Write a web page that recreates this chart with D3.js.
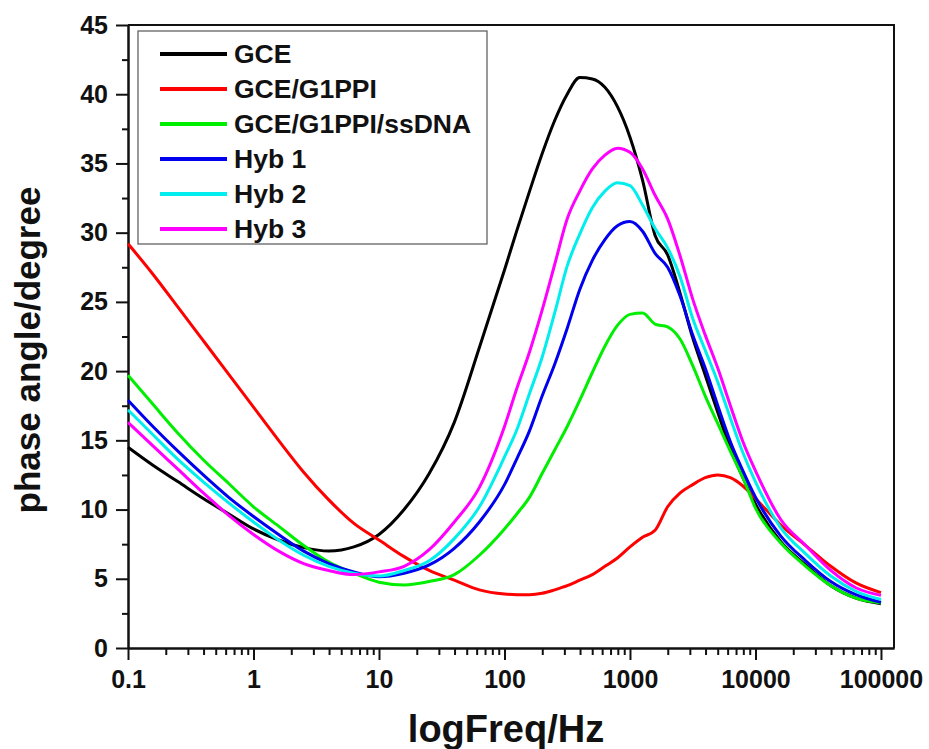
<!DOCTYPE html>
<html lang="en">
<head>
    <meta charset="UTF-8">
    <script src="https://d3js.org/d3.v7.min.js"></script>
    <title>Phase angle vs frequency</title>
    <style>
        body {
            margin: 0;
            background: #fff;
        }
        text {
            font-family: "Liberation Sans", Arial, sans-serif;
            font-weight: bold;
            fill: #111;
        }
        .axis path, .axis line {
            stroke: #111;
            stroke-width: 2px;
        }
    </style>
</head>
<body>
    <svg id="chart" width="929" height="749"></svg>

    <script>
        // frequencies (Hz)
        const freq = [0.1, 0.158, 0.251, 0.398, 0.631, 1, 1.585, 2.512, 3.981, 6.31,
            10, 15.85, 25.12, 39.81, 63.1, 100, 125.9, 158.5, 199.5, 251.2,
            316.2, 398.1, 501.2, 631, 794.3, 1000, 1259, 1585, 1995, 2512,
            3162, 3981, 5012, 6310, 7943, 10000, 15850, 25120, 39810, 63100, 100000];

        // phase angle (degree)
        const gce = [14.5, 13.2, 12.0, 10.8, 9.7, 8.6, 7.8, 7.25, 7.0, 7.3,
            8.2, 10.0, 12.6, 16.3, 21.7, 27.3, 30.2, 33.0, 35.7, 38.1,
            40.0, 41.2, 41.1, 40.5, 39.1, 36.9, 33.8, 29.8, 28.4, 25.6,
            22.4, 19.7, 17.0, 14.4, 12.3, 10.4, 7.7, 6.0, 4.5, 3.6, 3.2];
        const g1ppi = [29.2, 27.0, 24.6, 22.2, 19.8, 17.4, 15.0, 12.7, 10.7, 9.0,
            7.8, 6.6, 5.6, 4.9, 4.2, 3.9, 3.85, 3.85, 3.95, 4.2,
            4.5, 4.9, 5.3, 5.9, 6.5, 7.3, 8.0, 8.5, 10.2, 11.2,
            11.8, 12.3, 12.5, 12.3, 11.7, 10.8, 8.9, 7.4, 5.9, 4.7, 4.0];
        const ssdna = [19.7, 17.6, 15.5, 13.6, 11.9, 10.2, 8.8, 7.4, 6.2, 5.4,
            4.75, 4.55, 4.8, 5.3, 6.7, 8.6, 9.7, 10.9, 12.6, 14.3,
            16.0, 17.9, 19.9, 21.8, 23.3, 24.1, 24.2, 23.4, 23.2, 22.3,
            20.4, 18.2, 16.2, 14.2, 12.3, 10.1, 7.6, 5.9, 4.5, 3.6, 3.25];
        const hyb1 = [17.9, 16.0, 14.2, 12.5, 10.9, 9.5, 8.2, 7.0, 6.1, 5.5,
            5.15, 5.4, 6.0, 7.2, 9.1, 11.8, 13.7, 15.7, 18.2, 20.5,
            23.1, 25.9, 28.0, 29.5, 30.5, 30.8, 30.1, 28.5, 27.5, 25.4,
            22.6, 20.2, 17.5, 14.9, 12.8, 10.9, 8.1, 6.3, 4.8, 3.85, 3.3];
        const hyb2 = [17.2, 15.4, 13.6, 12.0, 10.5, 9.1, 7.8, 6.7, 5.9, 5.4,
            5.2, 5.6, 6.3, 7.9, 10.2, 13.8, 15.8, 18.4, 21.0, 24.2,
            27.6, 29.9, 31.8, 33.0, 33.6, 33.4, 32.0, 30.3, 28.9, 26.8,
            23.8, 21.5, 19.2, 16.6, 14.1, 12.0, 8.7, 6.8, 5.2, 4.1, 3.5];
        const hyb3 = [16.3, 14.6, 12.9, 11.2, 9.6, 8.2, 7.0, 6.1, 5.6, 5.3,
            5.5, 5.9, 7.1, 9.1, 11.6, 16.0, 18.8, 21.4, 24.4, 27.7,
            31.0, 33.0, 34.6, 35.6, 36.1, 35.8, 34.6, 32.7, 31.0, 28.3,
            25.2, 22.6, 20.2, 17.5, 14.9, 12.8, 9.3, 7.4, 5.6, 4.35, 3.8];

        const labels = ["GCE", "GCE/G1PPI", "GCE/G1PPI/ssDNA", "Hyb 1", "Hyb 2", "Hyb 3"];
        const colors = ["#000000", "#ff0000", "#00ee00", "#0000ee", "#00eeee", "#ff00ff"];
        const xTicks = [0.1, 1, 10, 100, 1000, 10000, 100000];
        const yTicks = [0, 5, 10, 15, 20, 25, 30, 35, 40, 45];

        const series = [gce, g1ppi, ssdna, hyb1, hyb2, hyb3];

        const svg = d3.select("#chart");
        const plot = { left: 128, right: 894, top: 25, bottom: 648 };

        const x = d3.scaleLog().domain([0.1, 127000]).range([plot.left, plot.right]);
        const y = d3.scaleLinear().domain([0, 45]).range([plot.bottom, plot.top]);

        // minor ticks
        const xMinor = x.ticks().filter(d => !xTicks.includes(d));
        const yMinor = d3.range(2.5, 45, 5);

        svg.append("g")
            .attr("class", "axis")
            .attr("transform", `translate(0,${plot.bottom})`)
            .call(d3.axisBottom(x).tickValues(xMinor).tickSize(7).tickSizeOuter(0).tickFormat(""));

        svg.append("g")
            .attr("class", "axis")
            .attr("transform", `translate(0,${plot.bottom})`)
            .call(d3.axisBottom(x).tickValues(xTicks).tickSize(12).tickSizeOuter(0)
                .tickPadding(10).tickFormat(d => String(d)))
            .selectAll("text")
            .style("font-size", "25px");

        svg.append("g")
            .attr("class", "axis")
            .attr("transform", `translate(${plot.left},0)`)
            .call(d3.axisLeft(y).tickValues(yMinor).tickSize(6).tickSizeOuter(0).tickFormat(""));

        svg.append("g")
            .attr("class", "axis")
            .attr("transform", `translate(${plot.left},0)`)
            .call(d3.axisLeft(y).tickValues(yTicks).tickSize(12).tickSizeOuter(0).tickPadding(8))
            .selectAll("text")
            .style("font-size", "25px");

        // frame top and right
        svg.append("path")
            .attr("d", `M${plot.left},${plot.top}H${plot.right}V${plot.bottom}`)
            .attr("fill", "none")
            .attr("stroke", "#111")
            .attr("stroke-width", 2);

        const line = d3.line()
            .x((d, i) => x(freq[i]))
            .y(d => y(d))
            .curve(d3.curveMonotoneX);

        series.forEach((s, i) => {
            svg.append("path")
                .datum(s)
                .attr("fill", "none")
                .attr("stroke", colors[i])
                .attr("stroke-width", 3)
                .attr("stroke-linejoin", "round")
                .attr("d", line);
        });

        // legend
        const lg = svg.append("g");
        lg.append("rect")
            .attr("x", 138).attr("y", 31)
            .attr("width", 349).attr("height", 213)
            .attr("fill", "#fff")
            .attr("stroke", "#555")
            .attr("stroke-width", 1.2);

        labels.forEach((name, i) => {
            const ly = 54 + i * 35;
            lg.append("line")
                .attr("x1", 160).attr("x2", 227)
                .attr("y1", ly).attr("y2", ly)
                .attr("stroke", colors[i])
                .attr("stroke-width", 4);
            lg.append("text")
                .attr("x", 234).attr("y", ly + 9)
                .style("font-size", "26.5px")
                .text(name);
        });

        // axis titles
        svg.append("text")
            .attr("x", 506).attr("y", 742)
            .attr("text-anchor", "middle")
            .style("font-size", "38px")
            .text("logFreq/Hz");

        svg.append("text")
            .attr("transform", "translate(40,350) rotate(-90)")
            .attr("text-anchor", "middle")
            .style("font-size", "35px")
            .text("phase angle/degree");
    </script>
</body>
</html>
